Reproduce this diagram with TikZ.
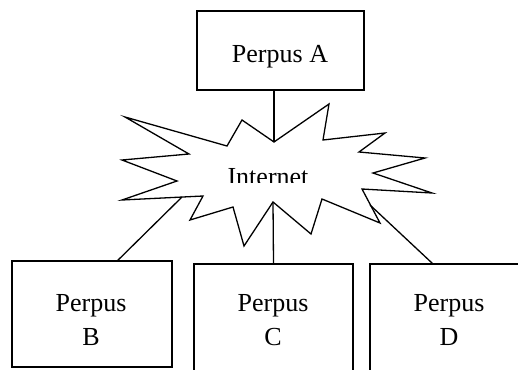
\documentclass[tikz,border=0pt]{standalone}
\usepackage{fontspec}
\setmainfont{Liberation Serif}
\usetikzlibrary{calc}
\begin{document}
\begin{tikzpicture}[x=1pt,y=-1pt,
  box/.style={draw, line width=1.4pt, rectangle, inner sep=0pt},
  lbl/.style={font=\fontsize{26}{30}\selectfont, anchor=base, inner sep=0pt},
  conn/.style={line width=1.3pt},
  burst/.style={draw, line width=1.3pt, fill=white, line join=miter}]
\useasboundingbox (0,0) rectangle (518,369);
\clip (0,0) rectangle (518,369);
% boxes
\node[box, minimum width=167pt, minimum height=79pt] (A) at (280.5,50.5) {};
\node[box, minimum width=160pt, minimum height=106pt] (B) at (92,314) {};
\node[box, minimum width=159pt, minimum height=140pt] (C) at (273.5,334) {};
\node[box, minimum width=170pt, minimum height=136pt] (D) at (455,332) {};
% labels
\node[lbl] (tA) at (280,63) {Perpus A};
\node[lbl] (tB1) at (91,311) {Perpus};
\node[lbl] (tB2) at (91,345) {B};
\node[lbl] (tC1) at (273,311) {Perpus};
\node[lbl] (tC2) at (273,345) {C};
\node[lbl] (tD1) at (449,311) {Perpus};
\node[lbl] (tD2) at (449,345) {D};
% starburst
\draw[burst] (274,142) coordinate (st)
  -- (329,104) -- (323,140) -- (385,133) -- (359,152) -- (425,158)
  -- (373,173) -- (432,193) -- (362,189) -- (380,223) -- (322,199)
  -- (311,234) -- (273,202) coordinate (sc) -- (244,246) -- (233,207)
  -- (190,220) -- (203,196) -- (122,200) -- (177,181) -- (122,160)
  -- (189,154) -- (125,117) -- (227,146) -- (242,120) -- cycle;
\coordinate (sb) at (182,197);
\coordinate (sd) at (370,205);
\begin{scope}
  \clip (200,150) rectangle (340,182);
  \node[lbl] (inet) at (268,185) {Internet};
\end{scope}
% connectors
\draw[conn] (st |- A.south) -- (st);
\draw[conn] (sb) -- ($(B.north west)!0.66!(B.north east)$);
\draw[conn] (sc) -- (C.north);
\draw[conn] (sd) -- ($(D.north west)+(63,0)$);
\end{tikzpicture}
\end{document}
